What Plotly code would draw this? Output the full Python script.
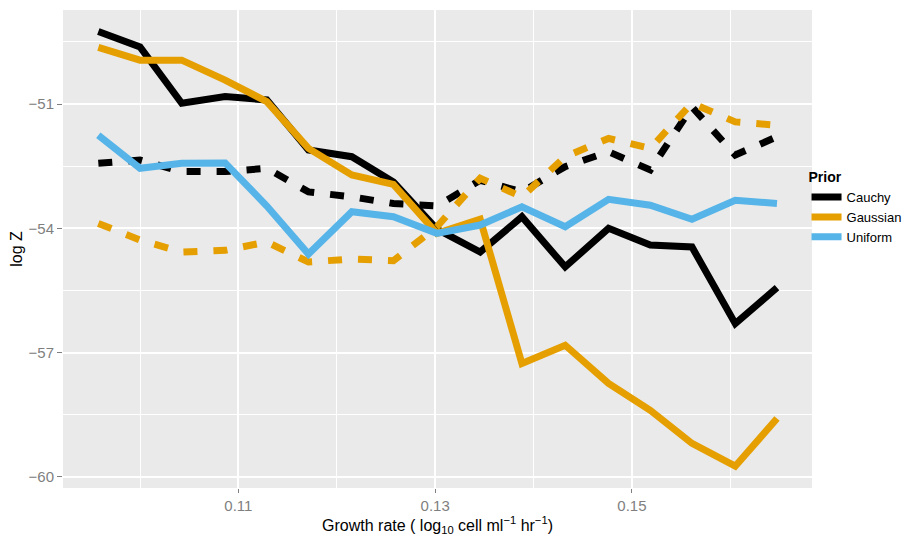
import plotly.graph_objects as go

growth_rate = [0.09576, 0.10000, 0.10424, 0.10865, 0.11289, 0.11712, 0.12153, 0.12576,
               0.13018, 0.13458, 0.13882, 0.14322, 0.14763, 0.15187, 0.15611, 0.16051, 0.16475]

cauchy_solid = [-49.25, -49.62, -50.98, -50.82, -50.90, -52.11, -52.27, -52.88, -54.02,
                -54.57, -53.72, -54.93, -54.00, -54.40, -54.45, -56.30, -55.43]
cauchy_dashed = [-52.43, -52.35, -52.63, -52.63, -52.55, -53.12, -53.24, -53.40, -53.46,
                 -52.84, -53.12, -52.51, -52.15, -52.59, -51.07, -52.23, -51.79]
gaussian_solid = [-49.63, -49.94, -49.94, -50.42, -50.94, -52.07, -52.71, -52.94, -54.12,
                  -53.78, -57.26, -56.82, -57.74, -58.39, -59.19, -59.74, -58.59]
gaussian_dashed = [-53.88, -54.28, -54.57, -54.53, -54.33, -54.81, -54.74, -54.78, -53.96,
                   -52.79, -53.24, -52.27, -51.83, -52.07, -50.98, -51.43, -51.51]
uniform_solid = [-51.75, -52.55, -52.43, -52.42, -53.46, -54.62, -53.60, -53.72, -54.12,
                 -53.92, -53.48, -53.96, -53.30, -53.44, -53.78, -53.32, -53.40]

priors = ["Cauchy", "Gaussian", "Uniform"]
colors = {"Cauchy": "#000000", "Gaussian": "#E69F00", "Uniform": "#56B4E9"}

x_ticks = [0.11, 0.13, 0.15]
x_tick_labels = ["0.11", "0.13", "0.15"]
y_ticks = [-60, -57, -54, -51]
y_tick_labels = ["\u221260", "\u221257", "\u221254", "\u221251"]

series = [
    ("Cauchy", cauchy_solid, "solid", True),
    ("Cauchy", cauchy_dashed, "14px,16px", False),
    ("Gaussian", gaussian_solid, "solid", True),
    ("Gaussian", gaussian_dashed, "14px,16px", False),
    ("Uniform", uniform_solid, "solid", True),
]

fig = go.Figure()
for name, vals, dash, show in series:
    fig.add_trace(go.Scatter(
        x=growth_rate, y=vals, mode="lines", name=name,
        legendgroup=name, showlegend=show,
        line=dict(color=colors[name], width=7, dash=dash),
        hoverinfo="skip",
    ))

font_family = "Liberation Sans, Arial, sans-serif"

# the page body adds an 8px offset, so margins are set relative to that
fig.update_layout(
    width=911, height=537,
    margin=dict(l=55, r=107, t=2, b=57, autoexpand=False),
    paper_bgcolor="white",
    plot_bgcolor="#EAEAEA",
    font=dict(family=font_family, size=15, color="black"),
    showlegend=True,
    legend=dict(
        title=dict(text="<b>Prior</b>", font=dict(size=14, color="black")),
        font=dict(size=13, color="black"),
        x=0.9927, xanchor="left", y=0.678, yanchor="top",
        bgcolor="rgba(0,0,0,0)",
        itemwidth=30,
        tracegroupgap=0,
    ),
)

fig.update_xaxes(
    range=[0.09217, 0.16831], automargin=False,
    tickmode="array", tickvals=x_ticks, ticktext=x_tick_labels,
    tickfont=dict(size=15, color="#7F7F7F"),
    ticks="outside", ticklen=4, tickcolor="#7F7F7F", tickwidth=1,
    showgrid=True, gridcolor="white", gridwidth=1.6,
    minor=dict(dtick=0.01, tick0=0.10, showgrid=True, gridcolor="white", gridwidth=0.7, ticks=""),
    zeroline=False, showline=False,
    title=dict(text="Growth rate ( log<sub>10</sub> cell ml<sup>\u22121</sup> hr<sup>\u22121</sup>)",
               font=dict(size=16, color="black"), standoff=4),
)
fig.update_yaxes(
    range=[-60.266, -48.73], automargin=False,
    tickmode="array", tickvals=y_ticks, ticktext=y_tick_labels,
    tickfont=dict(size=15, color="#7F7F7F"),
    ticks="outside", ticklen=5, tickcolor="#7F7F7F", tickwidth=1,
    showgrid=True, gridcolor="white", gridwidth=1.6,
    minor=dict(dtick=1.5, tick0=-49.5, showgrid=True, gridcolor="white", gridwidth=0.7, ticks=""),
    zeroline=False, showline=False,
    title=dict(text="log Z", font=dict(size=16, color="black"), standoff=14),
)

fig.write_html("out.html")
